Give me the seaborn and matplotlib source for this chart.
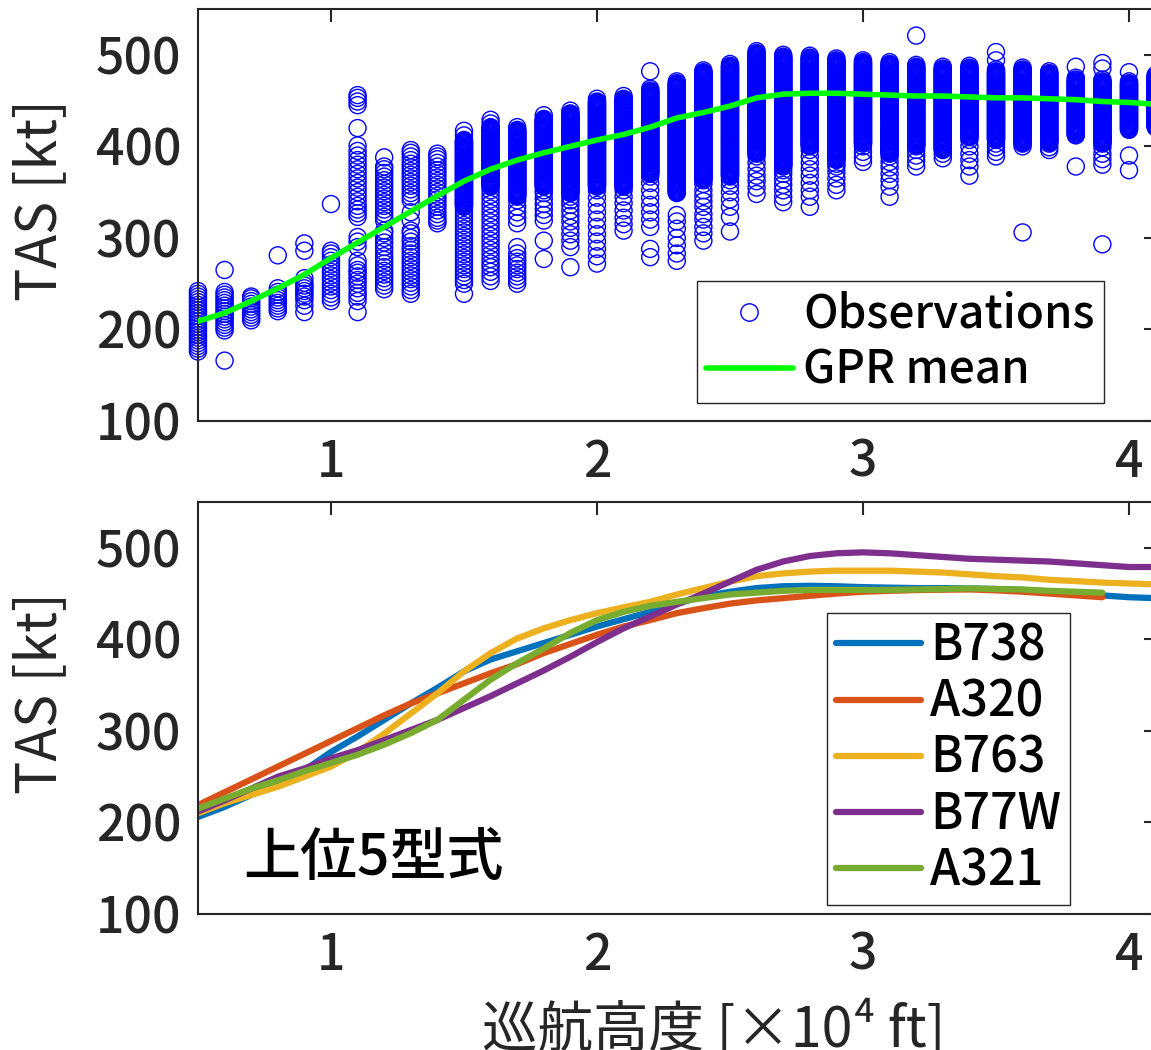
import numpy as np
import pandas as pd
import matplotlib
matplotlib.use('Agg')
import matplotlib.pyplot as plt
from matplotlib.lines import Line2D
import seaborn as sns

# 観測データ: 高度ごとの TAS (密な帯 + 個別点)
alt_cols = [0.5, 0.6, 0.7, 0.8, 0.9, 1.0, 1.1, 1.2, 1.3, 1.4, 1.5, 1.6, 1.7, 1.8, 1.9,
            2.0, 2.1, 2.2, 2.3, 2.4, 2.5, 2.6, 2.7, 2.8, 2.9, 3.0, 3.1, 3.2, 3.3, 3.4,
            3.5, 3.6, 3.7, 3.8, 3.9, 4.0, 4.1]
dense_bands = [None, None, None, None, None, None, None, None, None, None,
               (334, 407), (356, 421), (345, 418), (356, 430), (349, 436),
               (356, 449), (356, 452), (370, 461), (349, 469), (363, 481),
               (367, 488), (392, 502), (378, 498), (400, 497), (385, 494),
               (403, 492), (392, 490), (400, 487), (396, 485), (410, 486),
               (407, 482), (403, 484), (403, 480), (412, 473), (403, 471),
               (418, 469), (421, 476)]
sparse_vals = [
    [176, 179, 182, 185, 188, 191, 194, 197, 200, 203, 206, 209, 212, 215, 218, 221, 224, 227, 230, 233, 236, 239, 242],
    [166, 199, 202, 205, 208, 211, 214, 217, 220, 223, 226, 229, 232, 235, 238, 241, 265],
    [210, 213, 216, 219, 222, 225, 228, 231, 234, 236],
    [220, 223, 226, 229, 232, 235, 238, 241, 245, 281],
    [219, 226, 232, 236, 239, 242, 245, 248, 251, 256, 286, 294],
    [231, 235, 239, 243, 247, 251, 255, 259, 263, 267, 271, 275, 279, 283, 286, 337],
    [219, 231, 236, 240, 245, 250, 254, 258, 262, 265, 270, 275, 290, 296, 301, 323, 327, 331, 335, 340,
     345, 350, 355, 360, 365, 370, 375, 380, 385, 390, 395, 401, 420, 445, 449, 453, 456],
    [244, 248, 252, 256, 260, 264, 268, 272, 276, 280, 285, 290, 295, 300, 305, 308, 319, 323, 327, 331,
     335, 339, 343, 347, 351, 355, 359, 363, 367, 371, 375, 378, 388],
    [239, 243, 247, 251, 255, 259, 263, 267, 271, 275, 279, 283, 287, 291, 296, 300, 305, 308, 319, 328,
     341, 345, 349, 353, 357, 361, 365, 369, 373, 377, 381, 385, 389, 393, 396],
    [316, 319, 322, 326, 330, 334, 338, 342, 346, 350, 354, 358, 362, 366, 370, 374, 378, 382, 386, 389, 392],
    [239, 250, 254, 258, 262, 266, 270, 274, 278, 282, 286, 290, 294, 298, 302, 306, 310, 314, 318, 322, 326, 330, 412, 417],
    [253, 258, 263, 268, 272, 277, 282, 287, 292, 297, 302, 307, 312, 317, 322, 327, 332, 337, 342, 347, 352, 425, 429],
    [250, 254, 258, 262, 266, 270, 274, 278, 283, 290, 316, 322, 328, 334, 341, 421],
    [277, 297, 319, 325, 331, 337, 343, 349, 352, 434],
    [268, 290, 297, 304, 311, 318, 324, 330, 336, 341, 345, 439],
    [272, 280, 288, 296, 304, 312, 320, 328, 336, 344, 352, 452],
    [308, 315, 322, 330, 338, 345, 352, 455],
    [279, 288, 312, 320, 328, 336, 344, 352, 360, 367, 463, 482],
    [275, 283, 292, 300, 310, 318, 325, 471],
    [297, 305, 312, 320, 326, 334, 340, 346, 352, 359, 483],
    [307, 323, 334, 342, 350, 357, 363, 490],
    [348, 355, 362, 368, 375, 382, 389, 504],
    [339, 345, 352, 358, 364, 370, 374, 500],
    [334, 345, 352, 360, 368, 375, 382, 389, 396, 499],
    [352, 358, 365, 372, 378, 381, 496],
    [383, 388, 394, 400, 494],
    [345, 356, 363, 370, 377, 383, 389, 492],
    [378, 384, 390, 396, 489, 521],
    [387, 392, 487],
    [368, 378, 385, 392, 400, 407, 488],
    [389, 394, 399, 403, 484, 494, 503],
    [306, 400, 486],
    [396, 399, 482],
    [378, 475, 487],
    [293, 380, 386, 392, 399, 473, 485, 491],
    [374, 390, 471, 481],
    [478],
]

# GPR 平均
gpr_tas = [209, 218, 231, 245, 260, 278, 295, 312, 329, 346, 362, 375, 385, 393, 400,
           407, 413, 421, 431, 437, 444, 453, 457, 458, 458, 457, 456, 455, 455, 454,
           453, 453, 452, 451, 449, 448, 446]

# 上位5型式
types = ['B738', 'A320', 'B763', 'B77W', 'A321']
type_colors = ['#0072BD', '#D95319', '#EDB120', '#7E2F8E', '#77AC30']
b738 = [206, 217, 230, 243, 257, 277, 294, 312, 330, 347, 365, 378, 387, 396, 405,
        414, 422, 430, 439, 447, 452, 456, 458, 458.5, 458, 457, 456.5, 456, 456, 455.5,
        455, 454, 452, 450, 448, 446, 445]
a320 = [219, 233, 247, 261, 275, 289, 303, 317, 330, 341, 352, 363, 373, 385, 395,
        405, 414, 421, 428.6, 434, 439, 442.5, 445, 447.6, 450, 452, 453, 453.8, 454.2, 454.5,
        453.5, 452, 450, 448, 446]
b763 = [210, 221, 230, 239, 250, 261, 277, 297, 319, 341, 365, 385, 401, 412, 421,
        428.6, 435, 441, 449, 456, 463, 469, 472, 474, 475, 475, 475, 474, 473, 471,
        469, 467.6, 465, 463.6, 462, 461, 460]
b77w = [212, 224, 237, 250, 259, 270, 279, 290, 301, 312, 325, 338, 352, 366, 381,
        397, 412, 425, 438, 450, 463, 476, 485, 491, 494, 495, 494, 492, 490, 488,
        487, 486, 485, 483, 481, 479, 479]
a321 = [215, 226, 237, 246, 256, 265, 274, 285, 297.5, 312, 334, 356, 374, 390, 407,
        421, 430, 436.6, 441, 445, 449, 451, 453, 454, 454, 454, 454, 454.5, 455, 455.6,
        455, 454.5, 453, 452, 451]
type_tas = [b738, a320, b763, b77w, a321]

sns.set_style('white')
plt.rcParams['font.family'] = ['Noto Sans CJK JP', 'DejaVu Sans']
plt.rcParams['font.weight'] = 'medium'
plt.rcParams['axes.unicode_minus'] = False

ink = '#262626'
fs = 36

obs_alt, obs_tas = [], []
for a, band, extra in zip(alt_cols, dense_bands, sparse_vals):
    vals = list(extra)
    if band is not None:
        vals += list(np.arange(band[0], band[1] + 1, 1.0))
    obs_alt += [a] * len(vals)
    obs_tas += vals
df_obs = pd.DataFrame({'alt': obs_alt, 'tas': obs_tas})

rows = []
for name, vals in zip(types, type_tas):
    for a, v in zip(alt_cols, vals):
        rows.append((name, a, v))
df_types = pd.DataFrame(rows, columns=['type', 'alt', 'tas'])

fig = plt.figure(figsize=(11.51, 10.5), dpi=100)
ax1 = fig.add_axes([0.1720, 0.5990, 0.8320, 0.3924])
ax2 = fig.add_axes([0.1720, 0.1295, 0.8320, 0.3924])

sns.scatterplot(data=df_obs, x='alt', y='tas', ax=ax1, marker='o', s=150,
                linewidth=1.0, legend=False, zorder=2, clip_on=False)
pts = ax1.collections[-1]
pts.set_facecolor('none')
pts.set_edgecolor('#0000ff')
sns.lineplot(x=alt_cols, y=gpr_tas, ax=ax1, color='#00ff00', lw=4, zorder=3)

sns.lineplot(data=df_types, x='alt', y='tas', hue='type', hue_order=types,
             palette=type_colors, ax=ax2, lw=4.5, legend=False, errorbar=None, sort=False)

for ax in (ax1, ax2):
    ax.set_xlim(0.5, 4.1)
    ax.set_ylim(100, 550)
    ax.set_xticks([1, 2, 3, 4])
    ax.set_yticks([100, 200, 300, 400, 500])
    ax.tick_params(direction='in', length=9, width=1.5, top=True, right=True,
                   labelsize=fs, colors=ink, pad=12)
    for sp in ax.spines.values():
        sp.set_color(ink)
        sp.set_linewidth(1.5)
    ax.set_xlabel('')
    ax.set_ylabel('TAS [kt]', fontsize=40, color=ink)
    ax.yaxis.set_label_coords(-0.135, 0.536)

ax2.set_xlabel('巡航高度 [×10⁴ ft]', fontsize=40, color=ink)
ax2.xaxis.set_label_coords(0.539, -0.212)
ax2.text(0.67, 160, '上位5型式', fontsize=41, va='center', ha='left', color='black')

h1 = [Line2D([], [], ls='none', marker='o', ms=12.5, mfc='none', mec='#0000ff', mew=1.0),
      Line2D([], [], color='#00ff00', lw=4)]
leg1 = ax1.legend(h1, ['Observations', 'GPR mean'], loc='lower right',
                  bbox_to_anchor=(0.9592, 0.6162), bbox_transform=fig.transFigure,
                  borderaxespad=0, fontsize=33, frameon=True, fancybox=False,
                  framealpha=1, edgecolor=ink, handlelength=1.9, handletextpad=0.23,
                  borderpad=0.2, labelspacing=0.2, numpoints=1)
leg1.get_frame().set_linewidth(1.0)
for t in leg1.get_texts():
    t.set_color('black')

h2 = [Line2D([], [], color=c, lw=4.5) for c in type_colors]
leg2 = ax2.legend(h2, types, loc='lower right',
                  bbox_to_anchor=(0.9296, 0.1381), bbox_transform=fig.transFigure,
                  borderaxespad=0, fontsize=35, frameon=True, fancybox=False,
                  framealpha=1, edgecolor=ink, handlelength=1.75, handletextpad=0.2,
                  borderpad=0.175, labelspacing=0.13)
leg2.get_frame().set_linewidth(1.0)
for t in leg2.get_texts():
    t.set_color('black')

fig.savefig('out.png', dpi=100)
